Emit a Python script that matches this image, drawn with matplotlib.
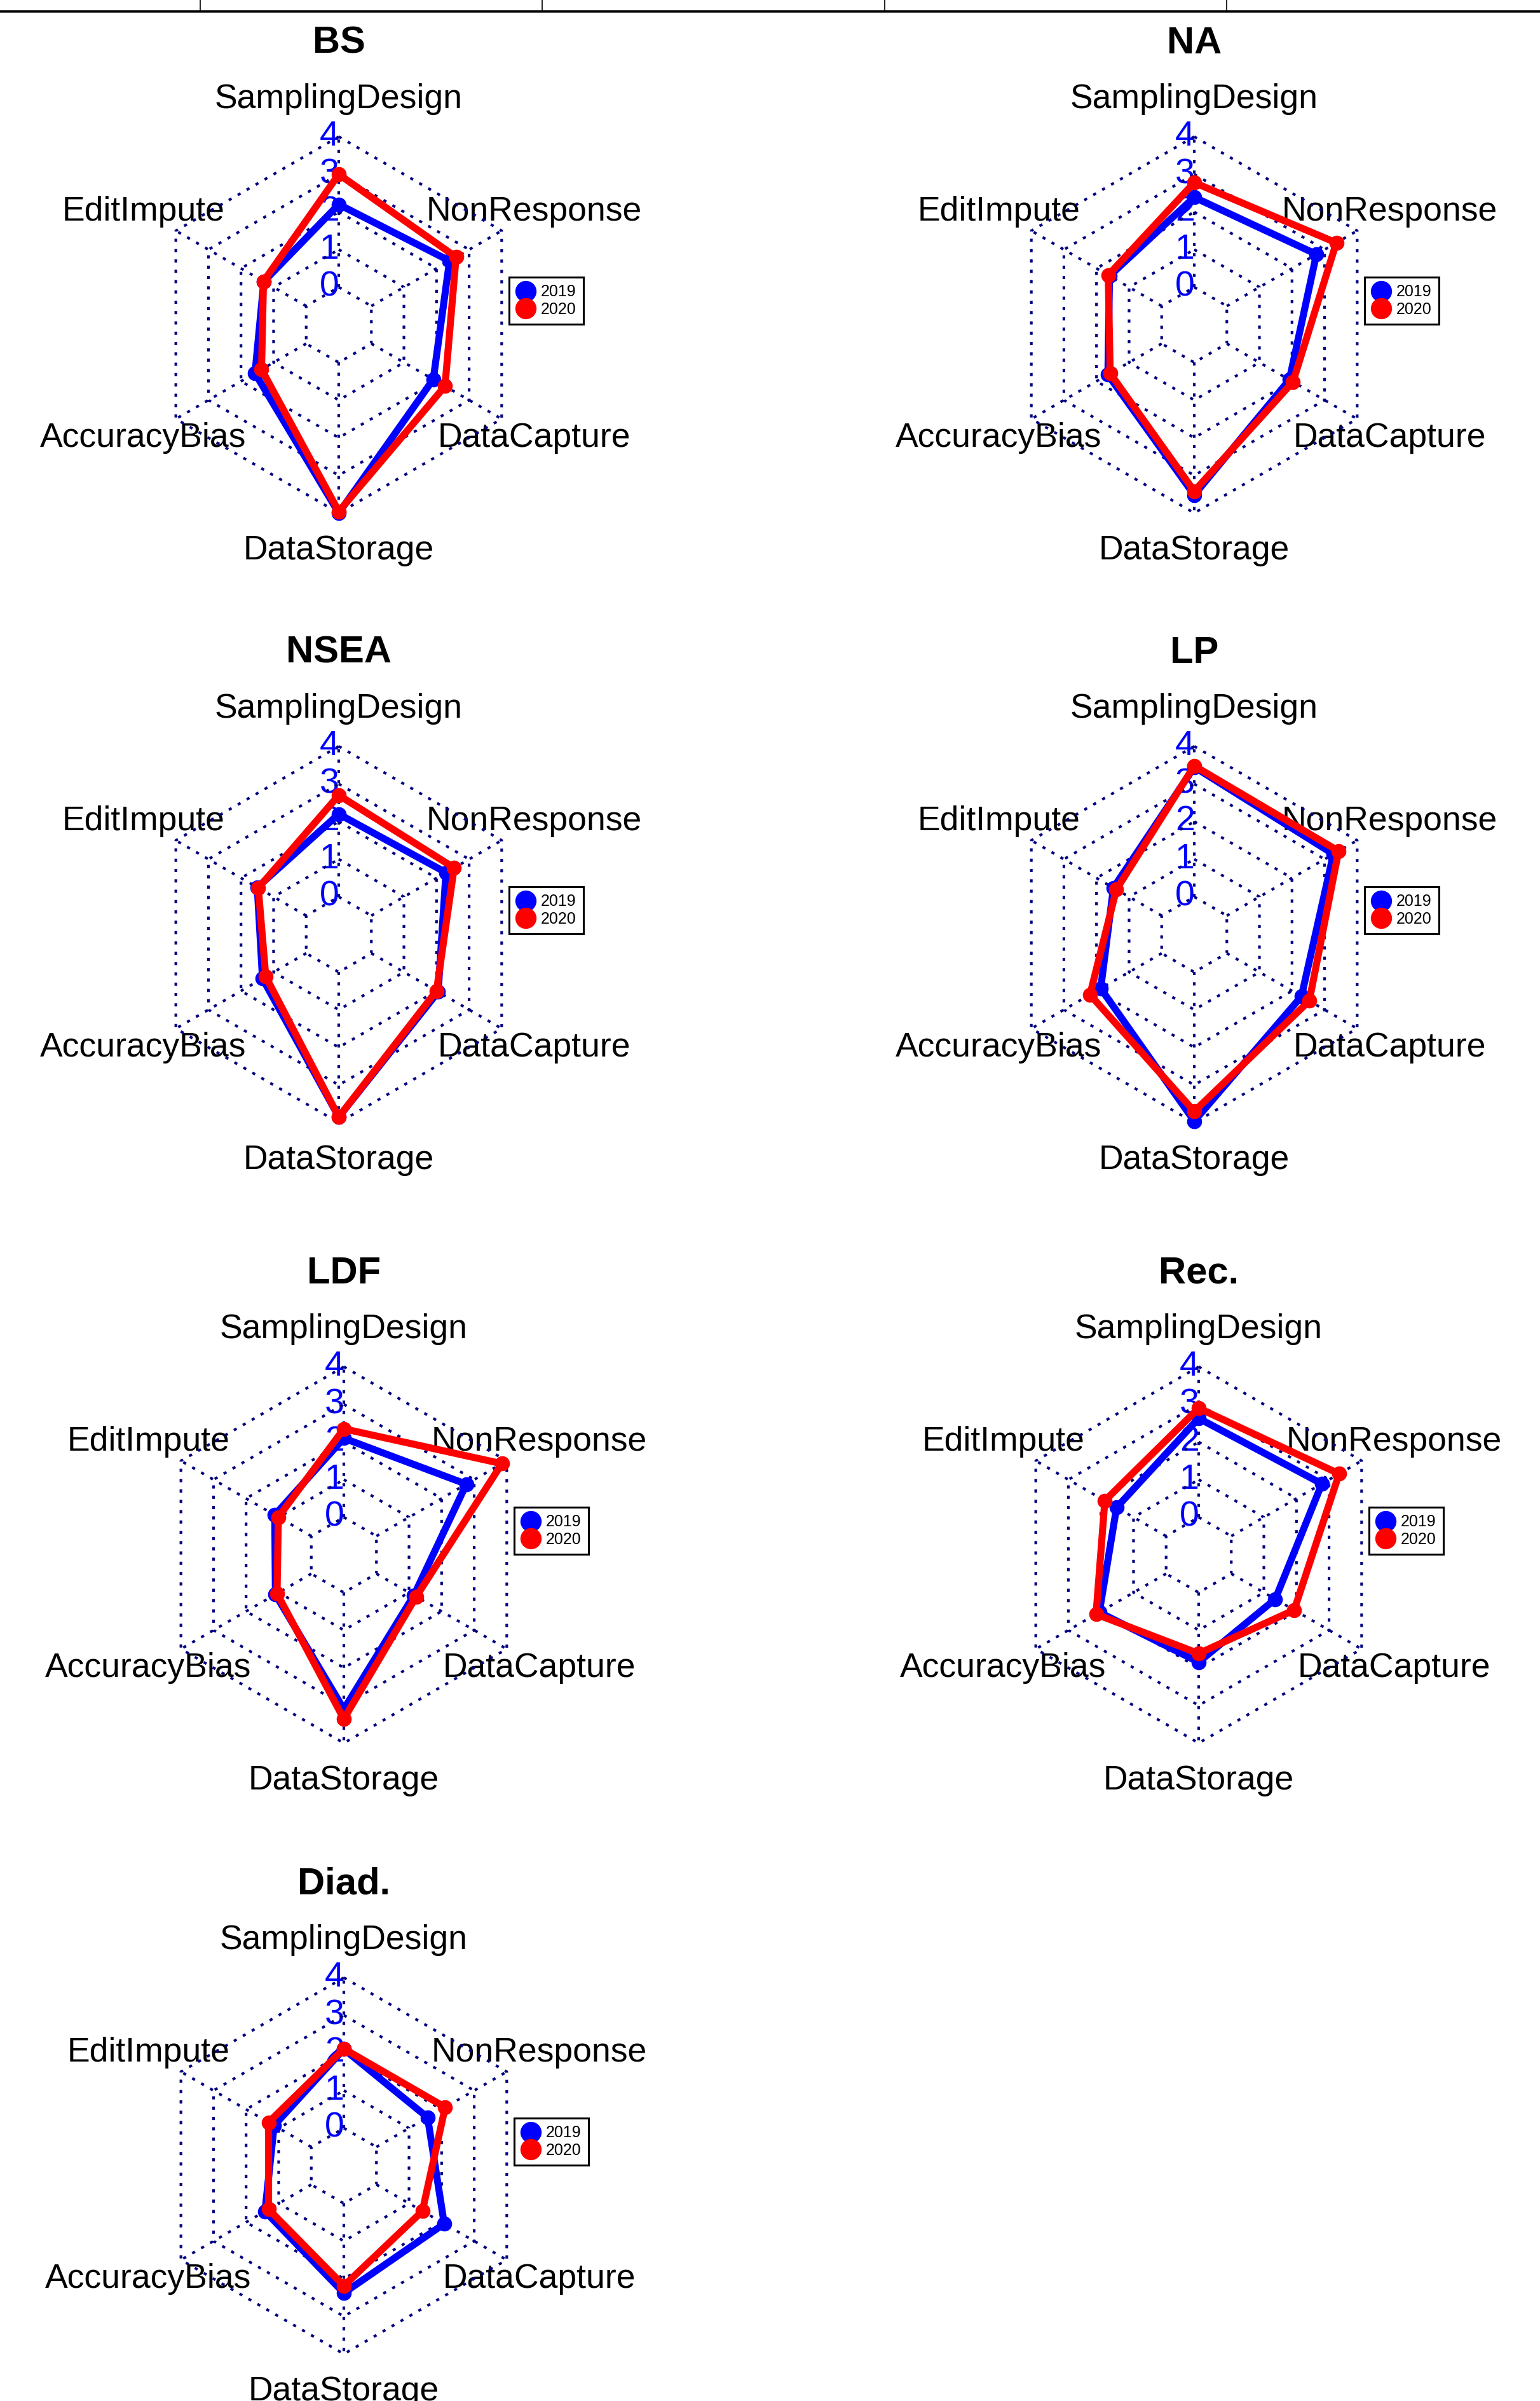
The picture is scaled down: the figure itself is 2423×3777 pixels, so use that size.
import matplotlib.pyplot as plt
import numpy as np
from matplotlib.lines import Line2D

plt.rcParams['font.family'] = ['Liberation Sans', 'DejaVu Sans']

# axes of the radar, clockwise from the top
categories = ["SamplingDesign", "NonResponse", "DataCapture",
              "DataStorage", "AccuracyBias", "EditImpute"]
years = ["2019", "2020"]
axis_ticks = [0, 1, 2, 3, 4]

bs_2019 = [2.2, 2.4, 1.9, 4.0, 1.57, 1.3]
bs_2020 = [3.0, 2.6, 2.26, 3.96, 1.37, 1.31]
na_2019 = [2.39, 2.75, 1.92, 3.52, 1.65, 1.6]
na_2020 = [2.78, 3.36, 2.03, 3.42, 1.58, 1.64]
nsea_2019 = [2.2, 2.29, 2.05, 3.85, 1.34, 1.5]
nsea_2020 = [2.7, 2.54, 2.0, 3.85, 1.24, 1.47]
lp_2019 = [3.45, 3.27, 2.29, 3.96, 1.87, 1.48]
lp_2020 = [3.48, 3.43, 2.53, 3.70, 2.2, 1.39]
ldf_2019 = [2.1, 2.76, 1.15, 3.1, 1.1, 1.12]
ldf_2020 = [2.35, 3.85, 1.22, 3.36, 1.05, 1.01]
rec_2019 = [2.63, 2.78, 1.35, 1.85, 2.05, 1.52]
rec_2020 = [2.9, 3.31, 1.93, 1.62, 2.15, 1.88]
diad_2019 = [2.1, 1.57, 2.08, 2.38, 1.42, 1.14]
diad_2020 = [2.11, 2.11, 1.41, 2.19, 1.31, 1.31]

titles = ["BS", "NA", "NSEA", "LP", "LDF", "Rec.", "Diad."]
series_2019 = [bs_2019, na_2019, nsea_2019, lp_2019, ldf_2019, rec_2019, diad_2019]
series_2020 = [bs_2020, na_2020, nsea_2020, lp_2020, ldf_2020, rec_2020, diad_2020]

# layout (pixels)
W, H = 2423, 3777
R = 296
centres = [(533, 511), (1879, 511), (533, 1470), (1879, 1470),
           (541, 2446), (1886, 2446), (541, 3407)]
XL, YL = 1.75, 1.6

GRID = "#000080"
COLS = ["#0000FF", "#FF0000"]


def radar(ax, title, v19, v20):
    seg = len(axis_ticks) - 1
    lo, hi = axis_ticks[0], axis_ticks[-1]
    theta = np.deg2rad(90 - 360 / len(categories) * np.arange(len(categories)))
    ct, st = np.cos(theta), np.sin(theta)

    def rad(v):
        return (1 + (np.asarray(v, float) - lo) / (hi - lo) * seg) / (seg + 1)

    dot = dict(color=GRID, lw=3.0, dashes=(1.2, 2.7), dash_capstyle="butt", zorder=2)
    for t in axis_ticks:
        r = rad(t)
        ax.plot(np.append(ct, ct[0]) * r, np.append(st, st[0]) * r, **dot)
        ax.text(-0.05, r, str(t), color="#0000FF", fontsize=40,
                ha="center", va="center", zorder=1)
    r0, r1 = rad(lo), rad(hi)
    for c, s in zip(ct, st):
        ax.plot([c * r0, c * r1], [s * r0, s * r1], **dot)

    for lab, c, s in zip(categories, ct, st):
        ax.text(1.2 * c, 1.2 * s, lab, fontsize=38.5, ha="center", va="center",
                zorder=1)

    for vals, col in zip([v19, v20], COLS):
        r = rad(vals)
        xs, ys = ct * r, st * r
        ax.plot(np.append(xs, xs[0]), np.append(ys, ys[0]), color=col, lw=8,
                solid_joinstyle="miter", zorder=3)
        ax.plot(xs, ys, "o", color=col, markersize=16, zorder=3)

    ax.text(0, 1.495, title, fontsize=43, fontweight="bold",
            ha="center", va="center")

    handles = [Line2D([], [], marker="o", linestyle="", markersize=23, color=c)
               for c in COLS]
    leg = ax.legend(handles, years, loc="upper left", bbox_to_anchor=(0.905, 0.253),
                    bbox_transform=ax.transData, fontsize=18, frameon=True,
                    fancybox=False, framealpha=1, borderpad=0.45, handlelength=1.2,
                    handletextpad=0.35, labelspacing=0.15, borderaxespad=0)
    leg.get_frame().set_edgecolor("black")
    leg.get_frame().set_linewidth(2.2)


fig = plt.figure(figsize=(W / 100, H / 100), dpi=100)

# fragment of the table above the charts
line_y = 1 - 18 / H
fig.add_artist(Line2D([0, 1], [line_y, line_y], color="black", lw=2.6,
                      transform=fig.transFigure))
for xp in [315, 853, 1392, 1930]:
    fig.add_artist(Line2D([xp / W, xp / W], [line_y, 1], color="black", lw=1.2,
                          transform=fig.transFigure))

for title, v19, v20, (cx, cy) in zip(titles, series_2019, series_2020, centres):
    ax = fig.add_axes([(cx - XL * R) / W, (H - cy - YL * R) / H,
                       2 * XL * R / W, 2 * YL * R / H])
    ax.set_xlim(-XL, XL)
    ax.set_ylim(-YL, YL)
    ax.axis("off")
    ax.patch.set_alpha(0)
    radar(ax, title, v19, v20)

fig.savefig("out.png", dpi=100)
